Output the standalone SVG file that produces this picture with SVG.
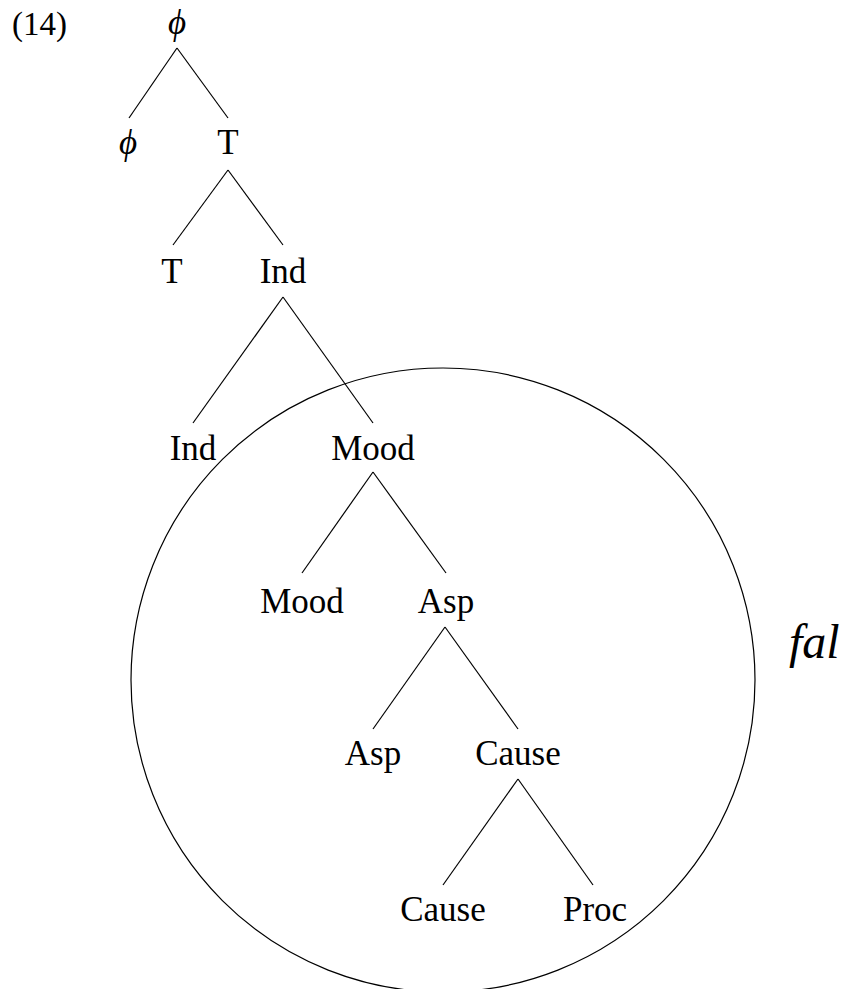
<svg xmlns="http://www.w3.org/2000/svg" width="847" height="989" viewBox="0 0 847 989">
<style>
.t{font-family:"Liberation Serif","Times New Roman",serif;font-size:35px;fill:#000;text-anchor:middle}
.i{font-style:italic}
.e line{stroke:#000;stroke-width:1.2}
</style>
<rect width="847" height="989" fill="#fff"/>
<text x="12" y="35" style="font-family:'Liberation Serif',serif;font-size:33px">(14)</text>
<ellipse id="domain" cx="443" cy="680" rx="312" ry="312" fill="none" stroke="#000" stroke-width="1.2"/>
<text id="fal" x="789" y="658" style="font-family:'Liberation Serif',serif;font-size:48px;font-style:italic">fal</text>
<g class="e" id="edges">
<line x1="177" y1="48" x2="129" y2="118"/>
<line x1="177" y1="48" x2="228" y2="118"/>
<line x1="228" y1="170" x2="173" y2="245"/>
<line x1="228" y1="170" x2="283" y2="245"/>
<line x1="283" y1="297" x2="193" y2="423"/>
<line x1="283" y1="297" x2="373" y2="423"/>
<line x1="373" y1="472" x2="302" y2="573"/>
<line x1="373" y1="472" x2="446" y2="573"/>
<line x1="445" y1="627" x2="373" y2="729"/>
<line x1="445" y1="627" x2="518" y2="729"/>
<line x1="518" y1="779" x2="443" y2="885"/>
<line x1="518" y1="779" x2="593" y2="885"/>
</g>
<g id="n-phi1"><text class="t i" x="177" y="34">ϕ</text></g>
<g id="n-phi2"><text class="t i" x="128" y="154">ϕ</text></g>
<g id="n-T1"><text class="t" x="228" y="154">T</text></g>
<g id="n-T2"><text class="t" x="172" y="283">T</text></g>
<g id="n-Ind1"><text class="t" x="283" y="283">Ind</text></g>
<g id="n-Ind2"><text class="t" x="193" y="460">Ind</text></g>
<g id="n-Mood1"><text class="t" x="373" y="460">Mood</text></g>
<g id="n-Mood2"><text class="t" x="302" y="613">Mood</text></g>
<g id="n-Asp1"><text class="t" x="446" y="613">Asp</text></g>
<g id="n-Asp2"><text class="t" x="373" y="765">Asp</text></g>
<g id="n-Cause1"><text class="t" x="518" y="765">Cause</text></g>
<g id="n-Cause2"><text class="t" x="443" y="921">Cause</text></g>
<g id="n-Proc"><text class="t" x="595" y="921">Proc</text></g>
</svg>
